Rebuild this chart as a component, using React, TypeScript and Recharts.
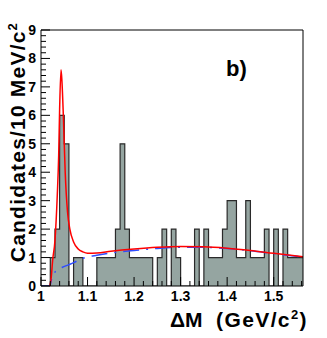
import { ComposedChart, Area, Line, XAxis, YAxis } from 'recharts';

// histogram: low edge of each 10 MeV bin and its count
const binLow = [
  1.0, 1.01, 1.02, 1.03, 1.04, 1.05, 1.06, 1.07, 1.08, 1.09,
  1.1, 1.11, 1.12, 1.13, 1.14, 1.15, 1.16, 1.17, 1.18, 1.19,
  1.2, 1.21, 1.22, 1.23, 1.24, 1.25, 1.26, 1.27, 1.28, 1.29,
  1.3, 1.31, 1.32, 1.33, 1.34, 1.35, 1.36, 1.37, 1.38, 1.39,
  1.4, 1.41, 1.42, 1.43, 1.44, 1.45, 1.46, 1.47, 1.48, 1.49,
  1.5, 1.51, 1.52, 1.53, 1.54, 1.55, 1.56,
];
const counts = [
  0, 0, 1, 2, 6, 5, 0, 1, 1, 0,
  0, 0, 1, 1, 1, 1, 2, 5, 2, 1,
  1, 1, 1, 1, 0, 1, 2, 0, 2, 1,
  0, 0, 0, 2, 0, 2, 1, 1, 1, 2,
  3, 3, 1, 1, 3, 1, 1, 1, 2, 0,
  2, 0, 2, 1, 1, 1, 1,
];
const xMax = 1.563;

// total fit (red)
const fitX = [1.019, 1.022, 1.025, 1.03, 1.035, 1.038, 1.04, 1.043, 1.045, 1.048, 1.052, 1.057, 1.062, 1.07, 1.08, 1.09, 1.1, 1.12, 1.15, 1.2, 1.25, 1.3, 1.35, 1.4, 1.45, 1.5, 1.563];
const fitY = [0, 0.3, 0.9, 1.6, 3.2, 4.6, 6.2, 7.6, 7.2, 6.0, 4.0, 2.6, 2.0, 1.55, 1.3, 1.2, 1.15, 1.16, 1.22, 1.3, 1.36, 1.39, 1.38, 1.33, 1.25, 1.15, 1.03];

// background (blue dashed)
const bkgX = [1.0, 1.019, 1.022, 1.028, 1.035, 1.045, 1.06, 1.07, 1.08, 1.09, 1.1, 1.12, 1.15, 1.2, 1.25, 1.3, 1.35, 1.4, 1.45, 1.5, 1.563];
const bkgY = [0, 0, 0.2, 0.45, 0.55, 0.65, 0.75, 0.82, 0.9, 0.97, 1.02, 1.08, 1.16, 1.25, 1.32, 1.36, 1.36, 1.32, 1.24, 1.14, 1.02];

const xMajorTicks = [1, 1.1, 1.2, 1.3, 1.4, 1.5];
const xTickLabels = ['1', '1.1', '1.2', '1.3', '1.4', '1.5'];
const xMinorTicks = [1.02, 1.04, 1.06, 1.08, 1.12, 1.14, 1.16, 1.18, 1.22, 1.24, 1.26, 1.28, 1.32, 1.34, 1.36, 1.38, 1.42, 1.44, 1.46, 1.48, 1.52, 1.54, 1.56];
const yMajorTicks = [0, 1, 2, 3, 4, 5, 6, 7, 8, 9];
const yMinorTicks = yMajorTicks.slice(0, 9).flatMap(v => [v + 0.2, v + 0.4, v + 0.6, v + 0.8]);

const histData = [
  ...binLow.map((x, i) => ({ x, n: counts[i] })),
  { x: xMax, n: counts[counts.length - 1] },
];
const fitData = fitX.map((x, i) => ({ x, y: fitY[i] }));
const bkgData = bkgX.map((x, i) => ({ x, y: bkgY[i] }));

const font = '"Liberation Sans", Arial, Helvetica, sans-serif';

const XTick = (props: any) => {
  const { x, y, payload } = props;
  const idx = xMajorTicks.indexOf(payload.value);
  const major = idx >= 0;
  return (
    <g>
      <line x1={x} x2={x} y1={y} y2={y - (major ? 9 : 5)} stroke="#000" strokeWidth={1} />
      {major && (
        <text x={x} y={y + 15} textAnchor="middle" fontFamily={font} fontWeight="bold" fontSize={14} fill="#000">
          {xTickLabels[idx]}
        </text>
      )}
    </g>
  );
};

const YTick = (props: any) => {
  const { x, y, payload } = props;
  const major = yMajorTicks.includes(payload.value);
  return (
    <g>
      <line x1={x} x2={x + (major ? 9 : 5)} y1={y} y2={y} stroke="#000" strokeWidth={1} />
      {major && (
        <text x={x - 5} y={y + 5} textAnchor="end" fontFamily={font} fontWeight="bold" fontSize={14} fill="#000">
          {payload.value}
        </text>
      )}
    </g>
  );
};

const App = () => {
  return (
    <div style={{ position: 'absolute', left: 0, top: 0, width: 327, height: 338, background: '#fff' }}>
      <ComposedChart width={327} height={338} margin={{ top: 29, right: 23, bottom: 32, left: 21 }}>
        <XAxis
          xAxisId="b"
          type="number"
          dataKey="x"
          domain={[1, xMax]}
          ticks={[...xMajorTicks, ...xMinorTicks]}
          interval={0}
          allowDataOverflow
          height={20}
          tickSize={0}
          tickMargin={0}
          tickLine={false}
          tick={XTick}
          axisLine={{ stroke: '#000' }}
        />
        <XAxis xAxisId="t" type="number" dataKey="x" domain={[1, xMax]} orientation="top" height={1} tick={false} tickLine={false} axisLine={{ stroke: '#000' }} allowDataOverflow />
        <YAxis
          yAxisId="l"
          type="number"
          domain={[0, 9]}
          ticks={[...yMajorTicks, ...yMinorTicks]}
          interval={0}
          allowDataOverflow
          width={20}
          tickSize={0}
          tickMargin={0}
          tickLine={false}
          tick={YTick}
          axisLine={{ stroke: '#000' }}
        />
        <YAxis yAxisId="r" type="number" domain={[0, 9]} orientation="right" width={1} tick={false} tickLine={false} axisLine={{ stroke: '#000' }} allowDataOverflow />
        <Area
          xAxisId="b"
          yAxisId="l"
          data={histData}
          dataKey="n"
          type="stepAfter"
          fill="#95a5a1"
          fillOpacity={1}
          stroke="#2a2a2a"
          strokeWidth={1.2}
          isAnimationActive={false}
          dot={false}
          activeDot={false}
        />
        <Line
          xAxisId="b"
          yAxisId="l"
          data={bkgData}
          dataKey="y"
          type="monotone"
          stroke="#2f4dff"
          strokeWidth={1.5}
          strokeDasharray="16 7 2 7"
          dot={false}
          activeDot={false}
          isAnimationActive={false}
        />
        <Line
          xAxisId="b"
          yAxisId="l"
          data={fitData}
          dataKey="y"
          type="monotone"
          stroke="#ff0000"
          strokeWidth={1.5}
          dot={false}
          activeDot={false}
          isAnimationActive={false}
        />
      </ComposedChart>
      <svg width={327} height={338} style={{ position: 'absolute', left: 0, top: 0, pointerEvents: 'none' }}>
        <text x={170} y={327} fontFamily={font} fontWeight="bold" fontSize={21} fill="#000">ΔM</text>
        <text x={308} y={327} textAnchor="end" fontFamily={font} fontWeight="bold" fontSize={21} letterSpacing={1.4} fill="#000">
          (GeV/c<tspan dy={-8} fontSize={13}>2</tspan><tspan dy={8}>)</tspan>
        </text>
        <text transform="translate(25,22) rotate(-90)" textAnchor="end" fontFamily={font} fontWeight="bold" fontSize={21} letterSpacing={1.2} fill="#000">
          Candidates/10 MeV/c<tspan dy={-8} fontSize={13}>2</tspan>
        </text>
        <text x={226} y={76} fontFamily={font} fontWeight="bold" fontSize={22} fill="#000">b)</text>
      </svg>
    </div>
  );
};

export default App;
